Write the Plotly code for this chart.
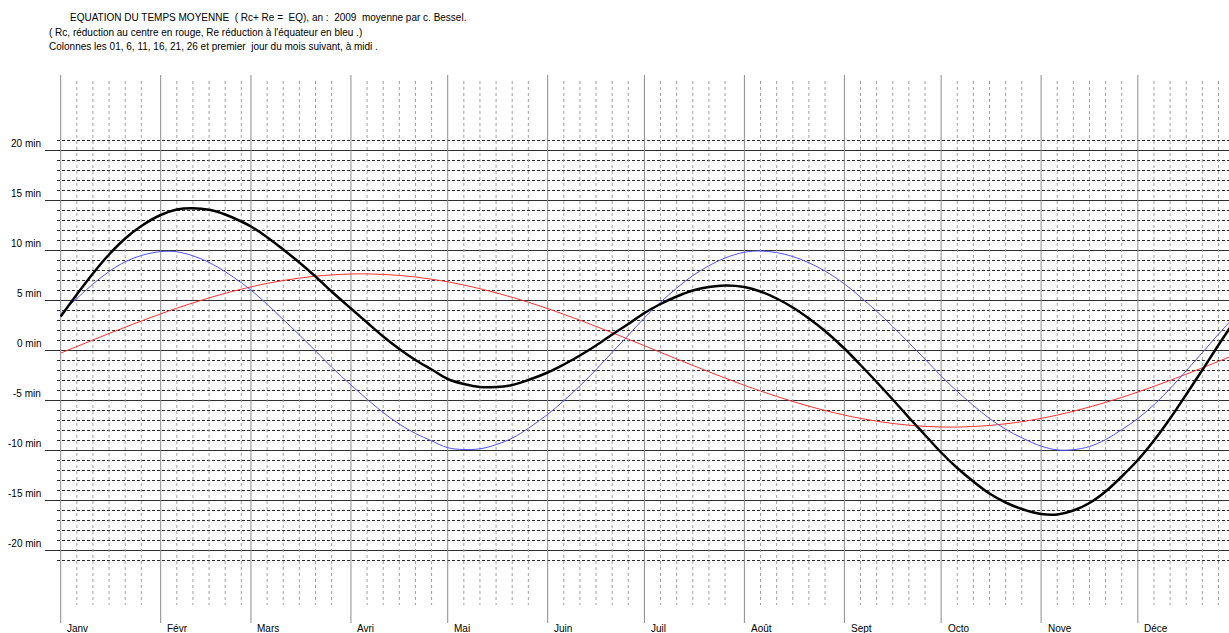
import datetime as dt
import plotly.graph_objects as go

# ---------------- data (minutes), columns 01, 6, 11, 16, 21, 26 of each month + 31 Dec
months = ["Janv", "Févr", "Mars", "Avri", "Mai", "Juin",
          "Juil", "Août", "Sept", "Octo", "Nove", "Déce"]
col_days = [1, 6, 11, 16, 21, 26]

eq_total = [  # EQ (black)
    3.4, 5.6, 7.7, 9.6, 11.2, 12.45,
    13.55, 14.1, 14.23, 14.07, 13.6, 12.9,
    12.4, 11.33, 10.1, 8.8, 7.4, 5.9,
    4.2, 2.8, 1.4, 0.15, -0.95, -1.9,
    -2.85, -3.35, -3.65, -3.65, -3.45, -2.95,
    -2.2, -1.4, -0.5, 0.5, 1.6, 2.65,
    3.75, 4.65, 5.4, 6.0, 6.35, 6.5,
    6.35, 5.9, 5.2, 4.3, 3.2, 1.95,
    0.2, -1.45, -3.15, -4.9, -6.7, -8.45,
    -10.2, -11.75, -13.1, -14.3, -15.2, -15.85,
    -16.35, -16.4, -16.0, -15.25, -14.1, -12.6,
    -10.95, -9.0, -6.8, -4.4, -1.95, 0.55,
    2.95,
]
rc_center = [  # Rc, réduction au centre (red)
    -0.26, 0.40, 1.05, 1.70, 2.33, 2.95,
    3.66, 4.23, 4.76, 5.26, 5.72, 6.13,
    6.36, 6.71, 7.00, 7.24, 7.43, 7.56,
    7.65, 7.66, 7.61, 7.51, 7.35, 7.13,
    6.87, 6.55, 6.18, 5.77, 5.32, 4.83,
    4.19, 3.62, 3.03, 2.41, 1.78, 1.13,
    0.48, -0.18, -0.84, -1.49, -2.13, -2.75,
    -3.48, -4.05, -4.59, -5.10, -5.57, -6.00,
    -6.46, -6.79, -7.07, -7.30, -7.47, -7.59,
    -7.65, -7.66, -7.60, -7.50, -7.33, -7.12,
    -6.79, -6.46, -6.08, -5.65, -5.19, -4.69,
    -4.15, -3.58, -2.99, -2.37, -1.73, -1.09,
    -0.43,
]
re_equator = [  # Re, réduction à l'équateur (blue)
    3.66, 5.20, 6.65, 7.90, 8.87, 9.50,
    9.89, 9.87, 9.47, 8.81, 7.88, 6.77,
    6.04, 4.62, 3.10, 1.56, -0.03, -1.66,
    -3.45, -4.86, -6.21, -7.36, -8.30, -9.03,
    -9.72, -9.90, -9.83, -9.42, -8.77, -7.78,
    -6.39, -5.02, -3.53, -1.91, -0.18, 1.52,
    3.27, 4.83, 6.24, 7.49, 8.48, 9.25,
    9.83, 9.95, 9.79, 9.40, 8.77, 7.95,
    6.66, 5.34, 3.92, 2.40, 0.77, -0.86,
    -2.55, -4.09, -5.50, -6.80, -7.87, -8.73,
    -9.56, -9.94, -9.92, -9.60, -8.91, -7.91,
    -6.80, -5.42, -3.81, -2.03, -0.22, 1.64,
    3.38,
]
y_labels = [20, 15, 10, 5, 0, -5, -10, -15, -20]

# ---------------- x positions (dates)
year = 2009
base = dt.datetime(year, 1, 1)
dates = [dt.datetime(year, m, d) for m in range(1, 13) for d in col_days] + [dt.datetime(year, 12, 31)]
month_starts = [dt.datetime(year, m, 1) for m in range(1, 13)]


def ds(t):
    return t.strftime("%Y-%m-%d %H:%M:%S")


def off(days):
    return ds(base + dt.timedelta(days=days))


PX_PER_DAY = 3.225
X0_PX = 60.7
W, H = 1229, 633


def px_to_x(px):
    return off((px - X0_PX) / PX_PER_DAY)


def py_to_y(py):
    return (350.5 - py) / 10.0


FONT = "Liberation Sans, Arial, sans-serif"

fig = go.Figure()

shapes = []
# horizontal lines
for v in range(-21, 22):
    if v % 5 == 0:
        shapes.append(dict(type="line", xref="x", yref="y", x0=px_to_x(45), x1=px_to_x(1240),
                           y0=v, y1=v, line=dict(color="#2e2e2e", width=1), layer="below"))
    else:
        shapes.append(dict(type="line", xref="x", yref="y", x0=px_to_x(57), x1=px_to_x(1240),
                           y0=v, y1=v, line=dict(color="#2a2a2a", width=1, dash="3px,2px"), layer="below"))
# vertical lines
for ms in month_starts:
    shapes.append(dict(type="line", xref="x", yref="y", x0=ds(ms), x1=ds(ms),
                       y0=py_to_y(75), y1=py_to_y(623), line=dict(color="#8c8c8c", width=1), layer="below"))
    for k in col_days[1:]:
        t = ds(ms + dt.timedelta(days=k - 1))
        shapes.append(dict(type="line", xref="x", yref="y", x0=t, x1=t,
                           y0=py_to_y(81), y1=py_to_y(605),
                           line=dict(color="#a0a0a0", width=1, dash="3px,3px"), layer="below"))

fig.add_trace(go.Scatter(x=[ds(d) for d in dates], y=rc_center, mode="lines", name="Rc",
                         line=dict(color="#ff3030", width=1, shape="spline"), hoverinfo="skip"))
fig.add_trace(go.Scatter(x=[ds(d) for d in dates], y=re_equator, mode="lines", name="Re",
                         line=dict(color="#5050ff", width=1, shape="spline"), hoverinfo="skip"))
fig.add_trace(go.Scatter(x=[ds(d) for d in dates], y=eq_total, mode="lines", name="EQ",
                         line=dict(color="#000000", width=2.5, shape="spline"), hoverinfo="skip"))

ann = []
title_lines = [
    (68, 17, "EQUATION DU TEMPS MOYENNE  ( Rc+ Re =  EQ), an :  2009  moyenne par c. Bessel."),
    (47, 32, "( Rc, réduction au centre en rouge, Re réduction à l'équateur en bleu .)"),
    (47, 46, "Colonnes les 01, 6, 11, 16, 21, 26 et premier  jour du mois suivant, à midi ."),
]
for px, py, txt in title_lines:
    ann.append(dict(x=px_to_x(px), y=py_to_y(py), xref="x", yref="y", text=txt, showarrow=False,
                    xanchor="left", yanchor="middle", font=dict(family=FONT, size=10, color="#000")))
for v in y_labels:
    ann.append(dict(x=px_to_x(43), y=v + 0.7, xref="x", yref="y", text=f"{v} min", showarrow=False,
                    xanchor="right", yanchor="middle", font=dict(family=FONT, size=10, color="#000")))
for name, ms in zip(months, month_starts):
    ann.append(dict(x=ds(ms + dt.timedelta(days=4.5 / PX_PER_DAY)), y=py_to_y(628), xref="x", yref="y",
                    text=name, showarrow=False, xanchor="left", yanchor="middle",
                    font=dict(family=FONT, size=10, color="#000")))

fig.update_layout(
    width=W, height=H, margin=dict(l=0, r=0, t=0, b=0, pad=0),
    paper_bgcolor="white", plot_bgcolor="white", showlegend=False,
    xaxis=dict(type="date", range=[px_to_x(0), px_to_x(W)], visible=False, fixedrange=True),
    yaxis=dict(range=[py_to_y(H), py_to_y(0)], visible=False, fixedrange=True),
    shapes=shapes, annotations=ann,
)

fig.write_html("out.html", config={"displayModeBar": False},
               post_script="document.body.style.margin='0';document.body.style.overflow='hidden';")
